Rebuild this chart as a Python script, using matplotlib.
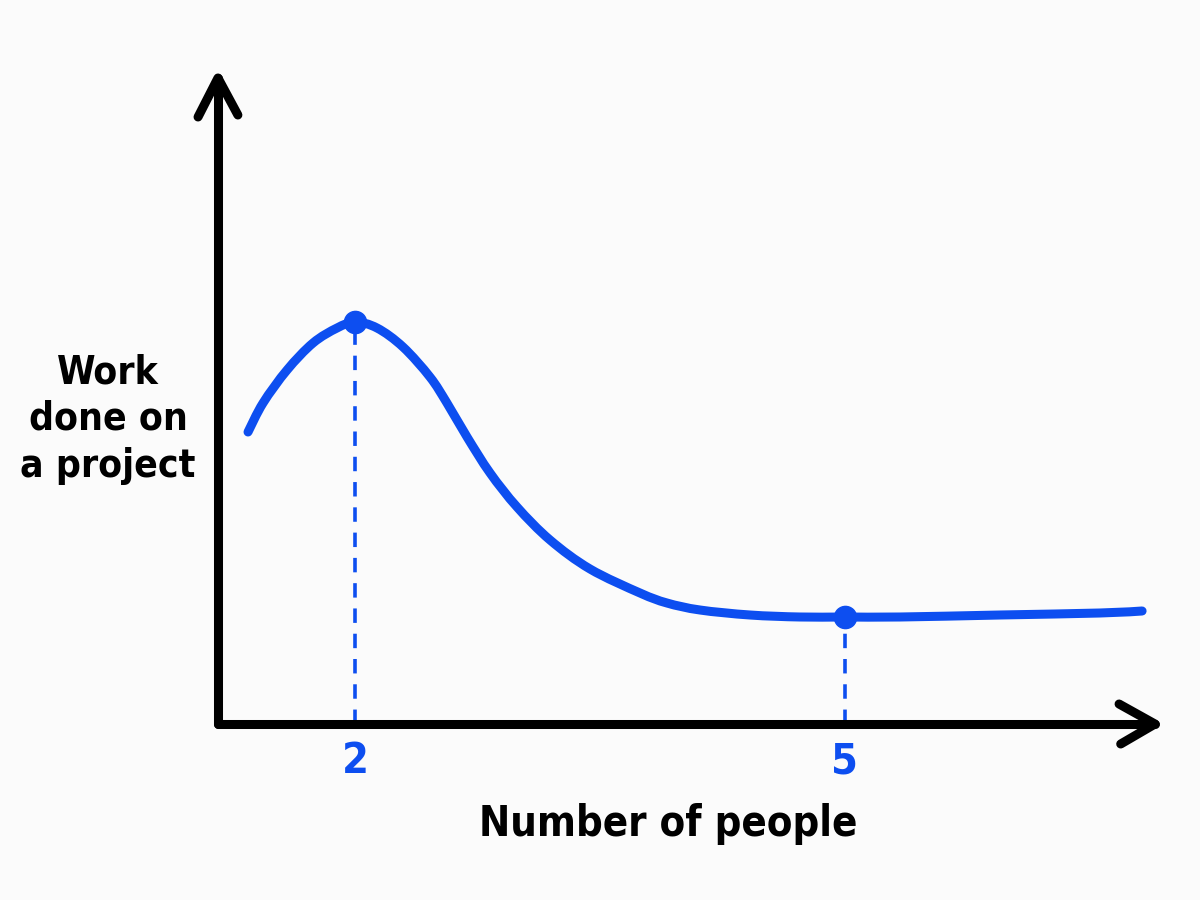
import numpy as np
import matplotlib
matplotlib.use("Agg")
from matplotlib import pyplot as plt
from matplotlib.path import Path
from matplotlib.patches import PathPatch

# curve (x = number of people, y = work done, arbitrary units)
people = [1.345, 1.437, 1.584, 1.743, 1.890, 2.000, 2.135, 2.294, 2.459, 2.563,
          2.686, 2.827, 2.992, 3.194, 3.439, 3.745, 3.910, 4.112, 4.418, 4.724,
          5.000, 5.337, 5.949, 6.561, 6.819]
work = [2.92, 3.21, 3.54, 3.81, 3.96, 4.02, 3.96, 3.77, 3.47, 3.21,
        2.87, 2.51, 2.17, 1.84, 1.55, 1.31, 1.21, 1.14, 1.09, 1.07,
        1.07, 1.07, 1.09, 1.11, 1.13]
marked_x = [2, 5]
marked_y = [4.02, 1.07]
tick_labels = ['2', '5']

blue = '#0d4ef0'
bg = '#fbfbfb'


def smooth_path(xs, ys):
    # Catmull-Rom through the read points, drawn as cubic bezier segments
    p = np.column_stack([xs, ys])
    pts = np.vstack([p[0], p, p[-1]])
    verts = [p[0]]
    codes = [Path.MOVETO]
    for i in range(1, len(pts) - 2):
        c1 = pts[i] + (pts[i + 1] - pts[i - 1]) / 6
        c2 = pts[i + 1] - (pts[i + 2] - pts[i]) / 6
        verts += [c1, c2, pts[i + 1]]
        codes += [Path.CURVE4] * 3
    return Path(verts, codes)


fig = plt.figure(figsize=(12, 9), dpi=100, facecolor=bg)
ax = fig.add_axes([0, 0, 1, 1])
ax.set_facecolor(bg)
ax.set_xlim(-0.1735, 7.1735)
ax.set_ylim(-1.76, 7.24)
ax.axis('off')

# axes with hand drawn arrows
x0, y0 = 1.161, 0.0
x_end, y_end = 6.898, 6.46
kw = dict(color='black', lw=6.5, solid_capstyle='round', solid_joinstyle='round', zorder=2)
ax.plot([x0, x0], [y0, y_end], **kw)
ax.plot([x0, x_end], [y0, y0], **kw)
ax.plot([x0 - 0.122, x0, x0 + 0.122], [y_end - 0.39, y_end, y_end - 0.37], **kw)
ax.plot([x_end - 0.22, x_end, x_end - 0.21], [0.20, y0, -0.20], **kw)

# guides down to the x axis
for xv, yv in zip(marked_x, marked_y):
    ax.plot([xv, xv], [y0, yv], color=blue, lw=2.6, ls=(0, (4, 3)), zorder=1)

ax.add_patch(PathPatch(smooth_path(people, work), fill=False, edgecolor=blue,
                       lw=6.5, capstyle='round', joinstyle='round', zorder=3))
ax.plot(marked_x, marked_y, 'o', color=blue, ms=16, zorder=4)

for xv, lab in zip(marked_x, tick_labels):
    ax.text(xv, -0.37, lab, color=blue, fontsize=31, fontweight='bold',
            ha='center', va='center', fontstretch='condensed')

ax.text(3.917, -1.0, 'Number of people', fontsize=30, fontweight='bold',
        ha='center', va='center', fontstretch='condensed')
ax.text(0.488, 3.05, 'Work\ndone on\na project', fontsize=28, fontweight='bold',
        ha='center', va='center', linespacing=1.3, fontstretch='condensed')

fig.savefig('out.png', dpi=100, facecolor=bg)
